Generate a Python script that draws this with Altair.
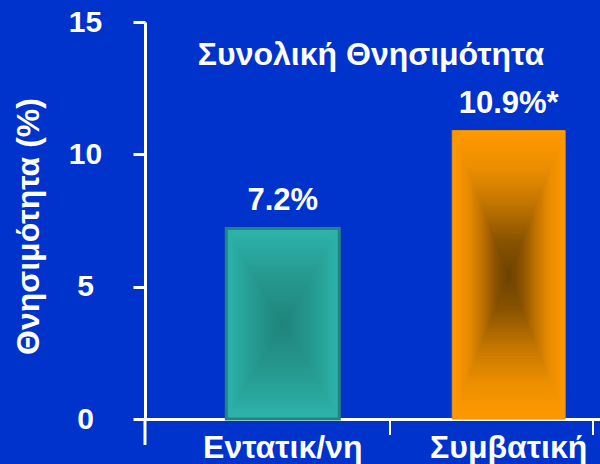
import altair as alt
import pandas as pd

# Mortality by treatment group
categories = ["Εντατικ/νη", "Συμβατική"]
values = [7.2, 10.9]
value_labels = ["7.2%", "10.9%*"]
title_text = "Συνολική Θνησιμότητα"
y_title = "Θνησιμότητα (%)"
y_ticks = [0, 5, 10, 15]

FONT = "Liberation Sans"
BG = "#0033cc"

# Shading ramps for the bars, from the centre (0) to the edge (1)
ramps = {
    "Εντατικ/νη": [(0.0, "#1f837b"), (0.5, "#26998f"), (1.0, "#2db3aa")],
    "Συμβατική": [(0.0, "#6b4100"), (0.25, "#8a5300"), (0.5, "#c27500"),
                  (0.75, "#ec8e00"), (1.0, "#ff9900")],
}
outline = {"Εντατικ/νη": "#22857f", "Συμβατική": "#e69000"}
outline_width = {"Εντατικ/νη": 3, "Συμβατική": 1}
N_LEVELS = 48


def hex_to_rgb(h):
    h = h.lstrip("#")
    return [int(h[i:i + 2], 16) for i in (0, 2, 4)]


def ramp_color(stops, t):
    for (t0, c0), (t1, c1) in zip(stops[:-1], stops[1:]):
        if t0 <= t <= t1:
            f = (t - t0) / (t1 - t0) if t1 > t0 else 0
            a, b = hex_to_rgb(c0), hex_to_rgb(c1)
            return "#" + "".join(f"{round(x + (y - x) * f):02x}" for x, y in zip(a, b))
    return stops[-1][1]


df = pd.DataFrame({"group": categories, "rate": values, "label": value_labels})

# nested rectangles, shrinking towards the bar centre, give a rectangular shading
rows = []
for g, r in zip(categories, values):
    for k in range(N_LEVELS):
        s = 1 - k / N_LEVELS
        rows.append({
            "group": g, "level": k,
            "lo": r * (1 - s) / 2, "hi": r * (1 + s) / 2,
            "shade": ramp_color(ramps[g], s),
        })
shade_df = pd.DataFrame(rows)

x_enc = alt.X(
    "group:N",
    sort=categories,
    scale=alt.Scale(paddingInner=0.5, paddingOuter=0.257, align=0.7),
    axis=alt.Axis(
        title=None,
        ticks=False,
        domainColor="white",
        domainWidth=3,
        labelColor="white",
        labelFont=FONT,
        labelFontSize=32,
        labelFontWeight="bold",
        labelBaseline="alphabetic",
        labelPadding=38,
        labelAngle=0,
    ),
)
y_axis = alt.Axis(
    values=y_ticks,
    grid=False,
    domainColor="white",
    domainWidth=3,
    tickColor="white",
    tickWidth=3,
    tickSize=12,
    labelColor="white",
    labelFont=FONT,
    labelFontSize=30,
    labelFontWeight="bold",
    labelAlign="center",
    labelBaseline="middle",
    labelPadding=48,
    title=y_title,
    titleColor="white",
    titleFont=FONT,
    titleFontSize=32,
    titleFontWeight="bold",
    titleAngle=-90,
    titleAlign="center",
    titleBaseline="alphabetic",
    titleX=-107,
    titleY=204,
)
y_scale = alt.Scale(domain=[0, 15], nice=False)

layers = []
for k in range(N_LEVELS):
    s = 1 - k / N_LEVELS
    layers.append(
        alt.Chart(shade_df)
        .transform_filter(alt.datum.level == k)
        .mark_bar(width=alt.RelativeBandSize(s))
        .encode(
            x=x_enc,
            y=alt.Y("lo:Q", scale=y_scale, axis=y_axis),
            y2="hi:Q",
            color=alt.Color("shade:N", scale=None),
        )
    )

base = alt.Chart(df).transform_calculate(
    edge=f"datum.group === '{categories[0]}' ? '{outline[categories[0]]}' : '{outline[categories[1]]}'",
    ew=f"datum.group === '{categories[0]}' ? {outline_width[categories[0]]} : {outline_width[categories[1]]}",
)

outlines = base.mark_bar(fillOpacity=0).encode(
    x=x_enc,
    y=alt.Y("rate:Q", scale=y_scale, axis=y_axis),
    stroke=alt.Stroke("edge:N", scale=None),
    strokeWidth=alt.StrokeWidth("ew:Q", scale=None),
)

labels = alt.Chart(df).mark_text(
    font=FONT, fontSize=31, fontWeight="bold", color="white",
    baseline="alphabetic", align="center", dy=-18,
).encode(x=x_enc, y=alt.Y("rate:Q", scale=y_scale, axis=y_axis), text="label:N")

# y axis runs on below the x axis, plus small ticks under the category axis
one = pd.DataFrame({"k": [0]})
y_ext = alt.Chart(one).mark_rule(color="white", strokeWidth=3).encode(
    x=alt.value(0), y=alt.value(397), y2=alt.value(423)
)
x_tick1 = alt.Chart(one).mark_rule(color="white", strokeWidth=2).encode(
    x=alt.value(245), y=alt.value(399), y2=alt.value(413)
)
x_tick2 = alt.Chart(one).mark_rule(color="white", strokeWidth=2).encode(
    x=alt.value(448), y=alt.value(399), y2=alt.value(413)
)

heading = alt.Chart(pd.DataFrame({"t": [title_text]})).mark_text(
    font=FONT, fontSize=32, fontWeight="bold", color="white",
    baseline="alphabetic", align="center",
).encode(x=alt.value(226), y=alt.value(43), text="t:N")

chart = (
    alt.layer(*layers, outlines, labels, y_ext, x_tick1, x_tick2, heading)
    .properties(
        width=455,
        height=397,
        autosize=alt.AutoSizeParams(type="none"),
        padding={"left": 145, "top": 22, "right": 0, "bottom": 45},
        background=BG,
    )
    .configure_view(stroke=None)
)

chart.save("out.html", embed_options={"renderer": "svg", "actions": False})
